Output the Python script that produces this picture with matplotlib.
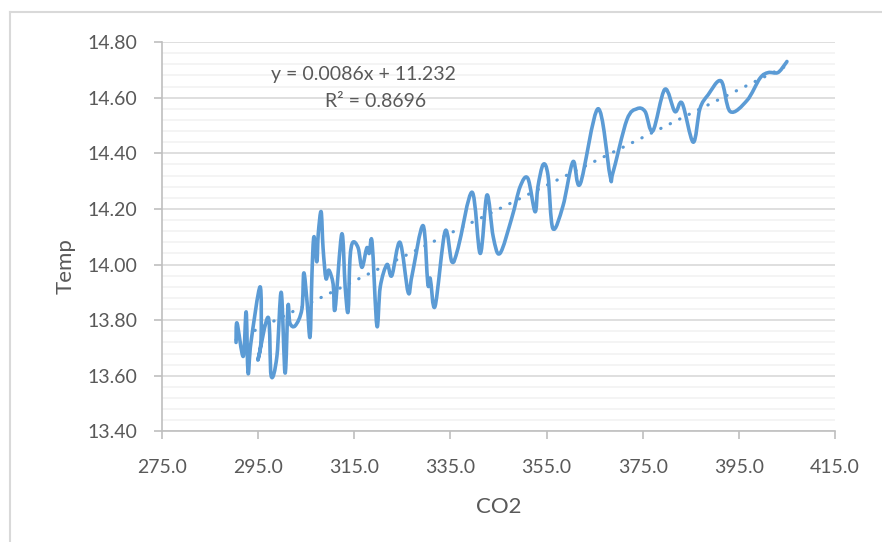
import matplotlib
matplotlib.use('Agg')
import matplotlib.pyplot as plt
from matplotlib.path import Path
from matplotlib.patches import PathPatch
from matplotlib.lines import Line2D
from matplotlib.ticker import MultipleLocator, FormatStrFormatter

# CO2 (x) and Temp (y), in the order the line is drawn
co2 = [290.4, 290.6, 291.9, 292.5, 292.9, 293.5, 295.4, 295.6, 295.0, 297.1,
       297.7, 298.9, 299.8, 300.6, 301.2, 301.6, 302.7, 304.1, 304.5, 305.2,
       305.8, 306.2, 306.6, 307.2, 307.5, 308.1, 308.5, 309.1, 309.7, 310.6,
       311.0, 312.4, 313.1, 313.7, 314.1, 314.7, 315.8, 316.6, 317.6, 318.1,
       318.7, 319.7, 320.4, 321.8, 322.8, 324.5, 326.2, 327.0, 329.3, 330.3,
       330.8, 331.8, 333.9, 335.3, 336.6, 339.5, 341.2, 342.6, 343.9, 345.3,
       347.8, 349.5, 351.1, 352.6, 353.2, 354.3, 355.3, 356.3, 358.4, 360.5,
       362.0, 365.7, 368.2, 368.8, 371.7, 373.8, 375.5, 377.1, 379.6, 381.7,
       383.2, 385.5, 386.9, 388.6, 391.3, 393.2, 396.7, 399.4, 401.1, 403.1,
       404.6, 405.0]
temp = [13.72, 13.79, 13.67, 13.83, 13.61, 13.72, 13.92, 13.73, 13.66, 13.81,
        13.60, 13.67, 13.90, 13.61, 13.85, 13.79, 13.78, 13.84, 13.97, 13.86,
        13.74, 13.97, 14.10, 14.01, 14.11, 14.19, 14.06, 13.95, 13.98, 13.93,
        13.84, 14.11, 13.92, 13.83, 14.02, 14.08, 14.06, 13.99, 14.06, 14.04,
        14.08, 13.78, 13.92, 14.00, 13.96, 14.08, 13.90, 13.96, 14.14, 13.93,
        13.95, 13.85, 14.12, 14.01, 14.06, 14.26, 14.04, 14.25, 14.10, 14.04,
        14.17, 14.28, 14.31, 14.19, 14.28, 14.36, 14.32, 14.13, 14.21, 14.37,
        14.29, 14.56, 14.32, 14.33, 14.52, 14.56, 14.55, 14.48, 14.63, 14.55,
        14.58, 14.44, 14.56, 14.61, 14.66, 14.55, 14.59, 14.67, 14.69, 14.69,
        14.72, 14.73]

x_ticks = [275, 295, 315, 335, 355, 375, 395, 415]

# linear trendline as shown on the chart
slope = 0.0086
intercept = 11.232
r_squared = 0.8696

blue = '#5B9BD5'
text_gray = '#595959'
plt.rcParams['font.family'] = ['Lato', 'DejaVu Sans']

fig = plt.figure(figsize=(8.82, 5.42), dpi=100)
ax = fig.add_axes([0.1837, 0.2039, 0.763, 0.7186])

# smoothed line like excel (bezier segments through every point)
verts = [(co2[0], temp[0])]
codes = [Path.MOVETO]
n = len(co2)
for i in range(n - 1):
    p0 = (co2[max(i - 1, 0)], temp[max(i - 1, 0)])
    p1 = (co2[i], temp[i])
    p2 = (co2[i + 1], temp[i + 1])
    p3 = (co2[min(i + 2, n - 1)], temp[min(i + 2, n - 1)])
    c1 = (p1[0] + (p2[0] - p0[0]) / 6, p1[1] + (p2[1] - p0[1]) / 6)
    c2 = (p2[0] - (p3[0] - p1[0]) / 6, p2[1] - (p3[1] - p1[1]) / 6)
    verts += [c1, c2, p2]
    codes += [Path.CURVE4] * 3
ax.add_patch(PathPatch(Path(verts, codes), facecolor='none', edgecolor=blue,
                       lw=2.6, capstyle='round', joinstyle='round', zorder=3))

# trendline
tx = [min(co2), max(co2)]
ty = [slope * x + intercept for x in tx]
ax.plot(tx, ty, color=blue, lw=2.3, linestyle=(0, (0.1, 3.2)),
        dash_capstyle='round', zorder=4)

ax.text(317.0, 14.682, f'y = {slope}x + {intercept}', ha='center', va='center',
        fontsize=14, color=text_gray)
ax.text(319.5, 14.585, f'R² = {r_squared}', ha='center', va='center',
        fontsize=14, color=text_gray)

ax.set_xlim(275, 415)
ax.set_ylim(13.40, 14.80)
ax.set_xticks(x_ticks)
ax.yaxis.set_major_locator(MultipleLocator(0.2))
ax.yaxis.set_minor_locator(MultipleLocator(0.04))
ax.xaxis.set_major_formatter(FormatStrFormatter('%.1f'))
ax.yaxis.set_major_formatter(FormatStrFormatter('%.2f'))

ax.grid(axis='y', which='major', color='#D9D9D9', lw=1.2)
ax.grid(axis='y', which='minor', color='#F2F2F2', lw=1.2)
ax.set_axisbelow(True)

for s in ['top', 'right']:
    ax.spines[s].set_visible(False)
for s in ['left', 'bottom']:
    ax.spines[s].set_color('#BFBFBF')
    ax.spines[s].set_linewidth(1.2)
ax.tick_params(which='major', direction='out', length=6, width=1.2,
               color='#BFBFBF', labelcolor=text_gray, labelsize=14)
ax.tick_params(axis='y', which='major', pad=12)
ax.tick_params(axis='x', which='major', pad=14)
ax.tick_params(which='minor', length=0)

ax.set_xlabel('CO2', fontsize=16, color=text_gray)
ax.set_ylabel('Temp', fontsize=16, color=text_gray)
ax.xaxis.set_label_coords(0.5, -0.167)
ax.yaxis.set_label_coords(-0.128, 0.425)

# chart area border (top and left edges visible)
fig.add_artist(Line2D([10 / 882, 10 / 882], [0, 1 - 12 / 542],
                      transform=fig.transFigure, color='#D9D9D9', lw=1.5))
fig.add_artist(Line2D([10 / 882, 1], [1 - 12 / 542, 1 - 12 / 542],
                      transform=fig.transFigure, color='#D9D9D9', lw=1.5))

fig.savefig('out.png', dpi=100)
plt.close(fig)
